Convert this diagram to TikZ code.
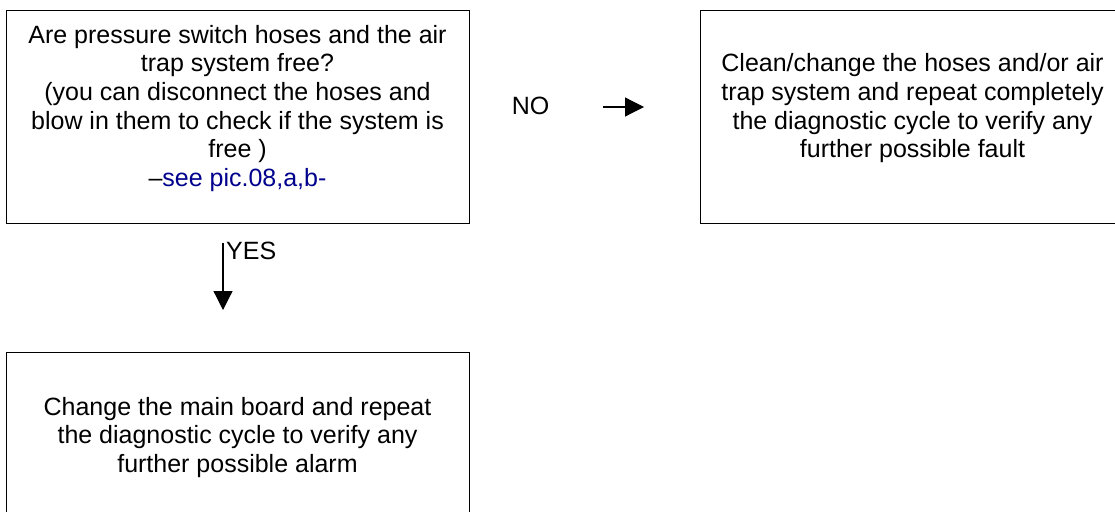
\documentclass[tikz,border=0pt]{standalone}
\usepackage{fontspec}
\setmainfont{Liberation Sans}
\usetikzlibrary{arrows.meta}
\definecolor{linkblue}{RGB}{0,0,140}
\begin{document}
\begin{tikzpicture}[x=1pt,y=-1pt,
  box/.style={draw, line width=1.3pt, rectangle, inner sep=0pt, anchor=north west},
  txt/.style={align=center, inner sep=0pt, font=\fontsize{25}{28.6}\selectfont},
  conn/.style={line width=1.2pt, -{Triangle[length=19pt,width=19pt]}}]
\useasboundingbox (0,0) rectangle (1115,511);
\begin{scope}
\clip (0,0) rectangle (1115,511);
% boxes
\node[box, minimum width=463pt, minimum height=213pt] (q) at (6,10) {};
\node[box, minimum width=425pt, minimum height=213pt] (fix) at (700,10) {};
\node[box, minimum width=463pt, minimum height=185pt] (board) at (6,352) {};
% texts
\node[txt, anchor=north] (qt) at (237.5,25) {Are pressure switch hoses and the air\\
trap system free?\\
(you can disconnect the hoses and\\
blow in them to check if the system is\\
free )\\
–\textcolor{linkblue}{see pic.08,a,b-}};
\node[txt, anchor=north] (fixt) at (912.5,53.5) {Clean/change the hoses and/or air\\
trap system and repeat completely\\
the diagnostic cycle to verify any\\
further possible fault};
\node[txt, anchor=north] (boardt) at (237.5,397) {Change the main board and repeat\\
the diagnostic cycle to verify any\\
further possible alarm};
% labels
\node[txt, anchor=base] (no) at (530.5,114) {NO};
\node[txt, anchor=base west] (yes) at (226,259) {YES};
% connectors
\coordinate (noA) at (603,107);
\coordinate (noB) at (644,107);
\draw[conn] (noA) -- (noB);
\coordinate (yA) at (223,243);
\coordinate (yB) at (223,310);
\draw[conn] (yA) -- (yB);
\end{scope}
\end{tikzpicture}
\end{document}
